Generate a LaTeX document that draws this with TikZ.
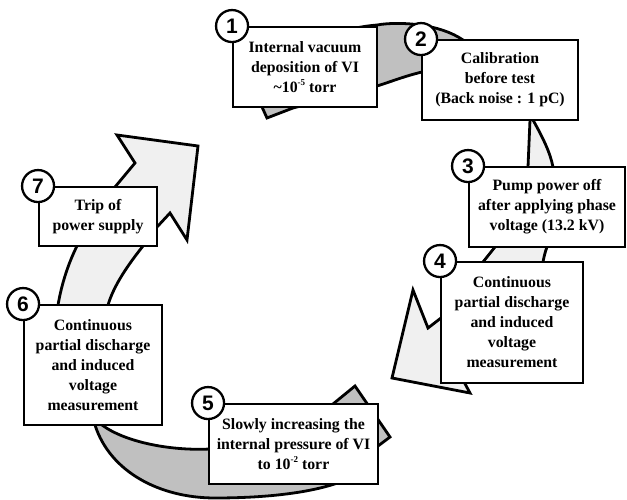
\documentclass[tikz,border=0pt]{standalone}
\usepackage{fontspec}
\setmainfont{Liberation Serif}
\newfontfamily\numfont{Liberation Sans}
\definecolor{darkband}{HTML}{C0C0C0}
\definecolor{lightband}{HTML}{F0F0F0}
\newcommand\supx[1]{\raisebox{0.42em}{\fontsize{9}{9}\selectfont #1}}
\begin{document}
\begin{tikzpicture}[x=1pt,y=-1pt,
  band/.style={draw=black, line width=2.8pt, line join=miter},
  box/.style={draw=black, line width=1.9pt, fill=white, align=center, inner sep=0pt,
    font=\fontsize{15.8}{20}\selectfont\bfseries},
  num/.style={circle, draw=black, line width=2.3pt, fill=white, minimum size=32pt,
    inner sep=0pt, font=\numfont\bfseries\fontsize{21}{21}\selectfont}]
\useasboundingbox (0,0) rectangle (627,500);

% arc A (top, dark)
\draw[band, fill=darkband] (267,118) -- (262,107) .. controls (268,62) and (318,30) .. (377,25)
  .. controls (400,21) and (440,24) .. (463,40) .. controls (478,48) and (490,58) .. (498,68)
  -- (490,80) .. controls (470,70) and (440,68) .. (422,72) .. controls (405,76) and (390,82) .. (377,86)
  -- (293,108) -- cycle;
% arc B (right, light)
\draw[band, fill=lightband] (531,105) -- (533,120) .. controls (543,138) and (550,152) .. (553,167)
  .. controls (558,195) and (552,225) .. (547,247) .. controls (545,252) and (544,257) .. (543,262)
  .. controls (530,310) and (500,340) .. (456,367) -- (470,393) -- (392,378) -- (413,290)
  -- (428,328) -- (441,318) .. controls (460,300) and (472,280) .. (483,262) -- (495,247)
  .. controls (512,222) and (524,195) .. (528,167) -- (530,120) -- cycle;
% arc C (bottom, dark)
\draw[band, fill=darkband] (98,412) -- (95,425) .. controls (110,472) and (160,498) .. (215,498)
  .. controls (270,498) and (320,492) .. (350,478) -- (378,446) -- (390,437) -- (355,386)
  -- (333,404) .. controls (290,432) and (250,447) .. (210,449)
  .. controls (170,451) and (125,442) .. (102,425) -- cycle;
% arc D (left, light)
\draw[band, fill=lightband] (62,330) -- (58,305) .. controls (62,282) and (69,262) .. (77,246)
  -- (115,187) -- (135,163) -- (117,135) -- (198,146) -- (187,240) -- (170,213) -- (157,227)
  -- (143,246) .. controls (128,265) and (114,285) .. (108,305) -- (106,330) -- cycle;

% boxes
\node[box, minimum width=144pt, minimum height=80pt] (b1) at (305,67)
  {Internal vacuum\\deposition of VI\\\textasciitilde10\supx{-5} torr};
\node[box, minimum width=156pt, minimum height=80pt] (b2) at (500,80)
  {Calibration\\before test\\(Back noise : 1 pC)};
\node[box, minimum width=156pt, minimum height=80pt] (b3) at (547,207)
  {Pump power off\\after applying phase\\voltage (13.2 kV)};
\node[box, minimum width=142pt, minimum height=121pt] (b4) at (512,322.5)
  {Continuous\\partial discharge\\and induced\\voltage\\measurement};
\node[box, minimum width=169pt, minimum height=80pt] (b5) at (293.5,444)
  {Slowly increasing the\\internal pressure of VI\\to 10\supx{-2} torr};
\node[box, minimum width=138pt, minimum height=120pt] (b6) at (93,365)
  {Continuous\\partial discharge\\and induced\\voltage\\measurement};
\node[box, minimum width=118pt, minimum height=59pt] (b7) at (98,216.5)
  {Trip of\\power supply};

% numbers
\node[num] (c1) at (b1.north west) {1};
\node[num] (c2) at (b2.north west) {2};
\node[num] (c3) at (b3.north west) {3};
\node[num] (c4) at (b4.north west) {4};
\node[num] (c5) at (b5.north west) {5};
\node[num] (c6) at (b6.north west) {6};
\node[num] (c7) at (b7.north west) {7};
\end{tikzpicture}
\end{document}
